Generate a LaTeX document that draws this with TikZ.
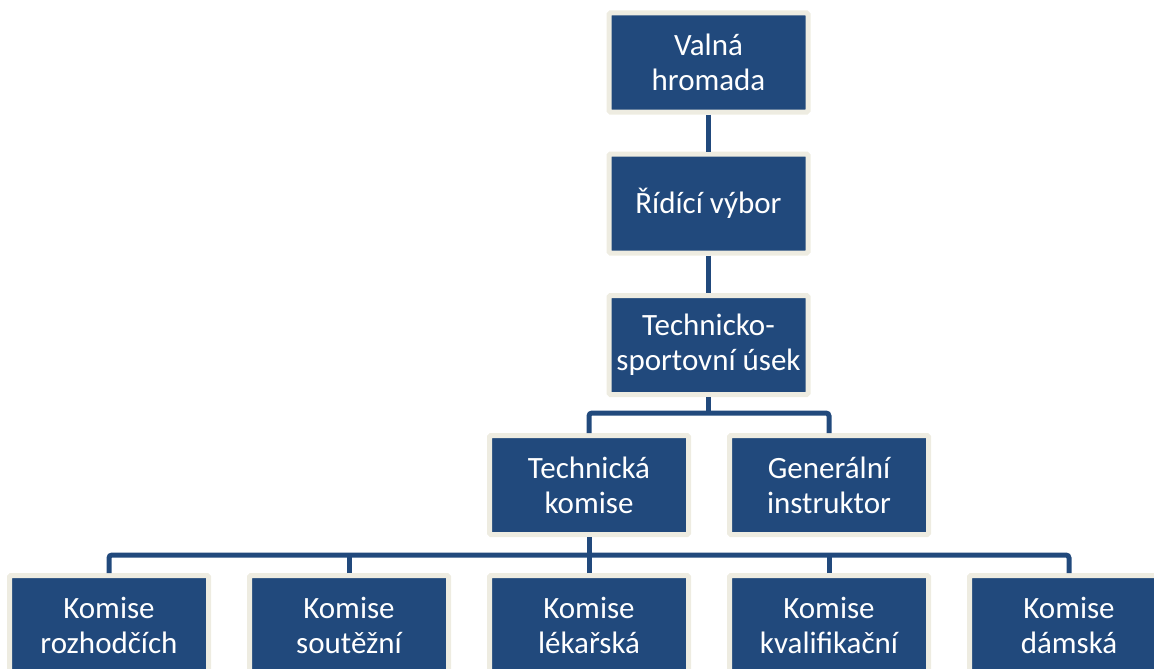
\documentclass[tikz,border=0pt]{standalone}
\usepackage{fontspec}
\setmainfont{Carlito}
\definecolor{boxblue}{RGB}{33,73,124}
\definecolor{boxedge}{RGB}{238,236,225}
\begin{document}
\begin{tikzpicture}[x=1pt,y=-1pt,
  box/.style={draw=boxedge, fill=boxblue, line width=5pt, rounded corners=1.5pt,
    minimum width=199pt, minimum height=99pt, inner sep=0pt, text=white,
    align=center, font=\fontsize{31}{35}\selectfont},
  conn/.style={draw=boxblue, line width=5pt, rounded corners=3pt}]
\useasboundingbox (0,0) rectangle (1154,669);
\clip (0,0) rectangle (1154,669);
\node[box] (vh) at (708.5,62.5) {Valná\\hromada};
\node[box] (rv) at (708.5,203.5) {Řídící výbor};
\node[box] (tsu) at (708.5,345) {Technicko-\\sportovní úsek};
\node[box] (tk) at (589,485) {Technická\\komise};
\node[box] (gi) at (829,485) {Generální\\instruktor};
\node[box] (k1) at (109,625) {Komise\\rozhodčích};
\node[box] (k2) at (349,625) {Komise\\soutěžní};
\node[box] (k3) at (589,625) {Komise\\lékařská};
\node[box] (k4) at (829,625) {Komise\\kvalifikační};
\node[box] (k5) at (1069,625) {Komise\\dámská};
\coordinate (j1) at (708.5,413);
\coordinate (j2) at (589,555);
\draw[conn] (vh) -- (rv);
\draw[conn] (rv) -- (tsu);
\draw[conn] (tsu) -- (j1);
\draw[conn] (tk.north) |- (j1) -| (gi.north);
\draw[conn] (tk) -- (j2);
\draw[conn] (k1.north) |- (j2) -| (k5.north);
\draw[conn] (k2.north) -- (k2.north |- j2);
\draw[conn] (k3.north) -- (j2);
\draw[conn] (k4.north) -- (k4.north |- j2);
\end{tikzpicture}
\end{document}
